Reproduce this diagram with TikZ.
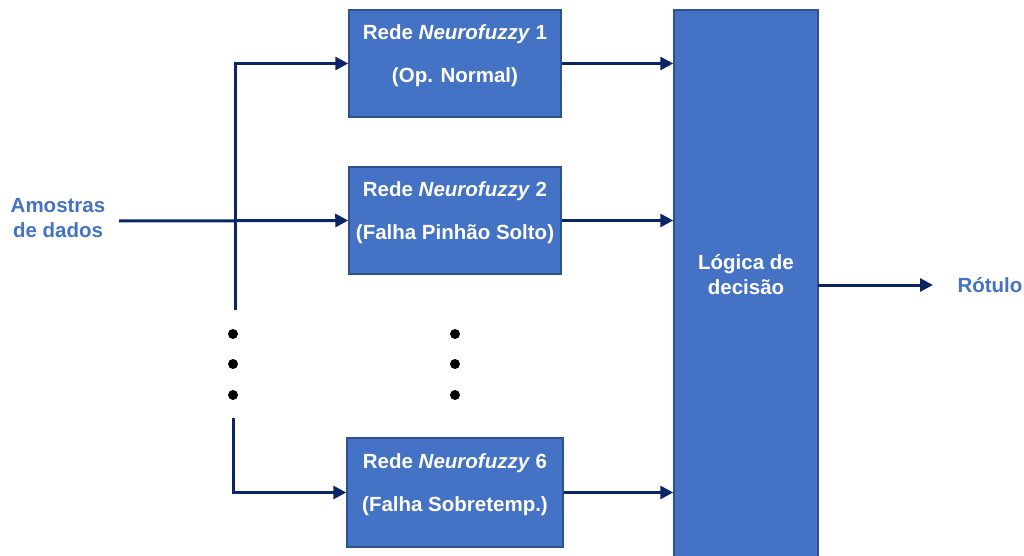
\documentclass[tikz,border=0pt]{standalone}
\usepackage{fontspec}
\setmainfont{Liberation Sans}
\usetikzlibrary{arrows.meta}
\definecolor{boxfill}{HTML}{4472C4}
\definecolor{boxline}{HTML}{2F528F}
\definecolor{navy}{HTML}{0B2566}
\definecolor{txtblue}{HTML}{4472C4}
\begin{document}
\begin{tikzpicture}[x=1pt,y=-1pt,
  netbox/.style={draw=boxline, line width=1.5pt, fill=boxfill, inner sep=0pt},
  boxtext/.style={text=white, font=\fontsize{20.5}{43}\selectfont\bfseries, align=center, inner sep=0pt, yshift=8pt},
  conn/.style={draw=navy, line width=3pt, -{Triangle[length=13pt,width=13pt]}},
  lbl/.style={text=txtblue, font=\fontsize{20.5}{25}\selectfont\bfseries, align=center, inner sep=0pt},
  dotmark/.style={fill=black, circle, inner sep=0pt, minimum size=10pt}]
\useasboundingbox (0,0) rectangle (1024,556);
\node[netbox, minimum width=212pt, minimum height=107pt] (n1) at (455,63.5) {};
\node[boxtext] (t1) at (n1) {Rede \textit{Neurofuzzy} 1\\(Op. Normal)};
\node[netbox, minimum width=212pt, minimum height=107pt] (n2) at (455,220.5) {};
\node[boxtext] (t2) at (n2) {Rede \textit{Neurofuzzy} 2\\(Falha Pinhão Solto)};
\node[netbox, minimum width=216pt, minimum height=109pt] (n6) at (455,492.5) {};
\node[boxtext] (t6) at (n6) {Rede \textit{Neurofuzzy} 6\\(Falha Sobretemp.)};
\node[netbox, minimum width=144pt, minimum height=554pt] (dec) at (746,287) {};
\node[lbl, text=white] (dectxt) at (746,275) {Lógica de\\decisão};
\node[lbl] (in) at (58,218.5) {Amostras\\de dados};
\node[lbl] (out) at (990,285) {Rótulo};
\coordinate (instart) at (119,221);
\coordinate (vtop) at (235,310);
\coordinate (vbot) at (233,418);
\coordinate (oend) at (933,285);
\coordinate (ostart) at (818,285);
\foreach \yy [count=\i] in {334,364,395}{
  \node[dotmark] (dl\i) at (233,\yy) {};
  \node[dotmark] (dr\i) at (455,\yy) {};
}
\draw[conn] (instart) -- (n2.west);
\draw[conn] (vtop) -- (vtop |- n1.west) -- (n1.west);
\draw[conn] (vbot) -- (vbot |- n6.west) -- (n6.west);
\draw[conn] (n1.east) -- (n1.east -| dec.west);
\draw[conn] (n2.east) -- (n2.east -| dec.west);
\draw[conn] (n6.east) -- (n6.east -| dec.west);
\draw[conn] (ostart) -- (oend);
\end{tikzpicture}
\end{document}
